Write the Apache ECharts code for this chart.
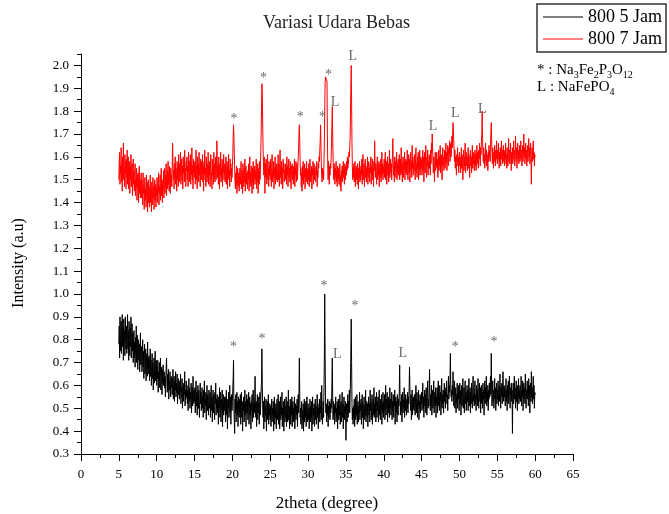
<!DOCTYPE html>
<html><head><meta charset="utf-8">
<script src="https://cdn.jsdelivr.net/npm/echarts@6/dist/echarts.min.js"></script>
<style>html,body{margin:0;padding:0;background:#fff}#c{width:669px;height:514px}</style>
</head><body><div id="c"></div>
<script>
// scan: 2theta from 5.00 to 60.00 in steps of 0.05 degree (20 readings per degree)
const thetaStart = 5.0;
const thetaStep = 0.05;

const seriesNames = ['800 5 Jam', '800 7 Jam'];

// 800 5 Jam (black)
const jam5 = [
0.78,0.86,0.72,0.90,0.80,0.75,0.88,0.74,0.83,0.91,0.77,0.85,0.71,0.89,0.79,0.84,0.73,0.90,0.80,0.76,
0.86,0.74,0.82,0.91,0.76,0.84,0.71,0.88,0.79,0.73,0.85,0.77,0.90,0.72,0.81,0.87,0.75,0.83,0.70,0.80,
0.84,0.72,0.79,0.68,0.81,0.74,0.86,0.70,0.77,0.82,0.67,0.76,0.80,0.71,0.78,0.66,0.75,0.83,0.69,0.74,
0.77,0.66,0.73,0.80,0.68,0.75,0.63,0.72,0.78,0.65,0.70,0.76,0.62,0.71,0.74,0.64,0.79,0.67,0.72,0.65,
0.73,0.62,0.69,0.76,0.64,0.71,0.60,0.68,0.74,0.63,0.70,0.58,0.67,0.72,0.61,0.69,0.75,0.62,0.66,0.71,
0.60,0.68,0.63,0.71,0.57,0.66,0.62,0.70,0.59,0.65,0.72,0.58,0.64,0.68,0.56,0.67,0.61,0.69,0.60,0.64,
0.66,0.59,0.64,0.55,0.62,0.68,0.72,0.63,0.57,0.65,0.60,0.67,0.54,0.62,0.58,0.66,0.61,0.55,0.64,0.59,
0.63,0.56,0.61,0.67,0.54,0.60,0.64,0.53,0.62,0.58,0.66,0.55,0.61,0.57,0.65,0.52,0.60,0.63,0.56,0.59,
0.54,0.62,0.57,0.65,0.52,0.59,0.55,0.63,0.50,0.58,0.61,0.53,0.60,0.56,0.66,0.51,0.58,0.54,0.62,0.55,
0.60,0.52,0.58,0.49,0.56,0.63,0.53,0.59,0.50,0.57,0.54,0.61,0.48,0.56,0.59,0.51,0.64,0.55,0.52,0.58,
0.53,0.59,0.48,0.56,0.62,0.51,0.57,0.47,0.55,0.60,0.50,0.58,0.53,0.46,0.56,0.61,0.52,0.57,0.49,0.55,
0.59,0.50,0.55,0.46,0.58,0.53,0.62,0.48,0.54,0.51,0.57,0.45,0.55,0.60,0.49,0.56,0.52,0.47,0.58,0.53,
0.50,0.57,0.46,0.54,0.60,0.49,0.55,0.44,0.53,0.58,0.48,0.56,0.51,0.45,0.57,0.52,0.61,0.47,0.54,0.50,
0.56,0.48,0.53,0.43,0.55,0.50,0.59,0.46,0.52,0.57,0.44,0.54,0.49,0.58,0.42,0.53,0.56,0.47,0.51,0.55,
0.49,0.55,0.44,0.52,0.58,0.47,0.53,0.41,0.54,0.50,0.57,0.46,0.52,0.60,0.48,0.55,0.43,0.51,0.56,0.49,
0.53,0.58,0.63,0.71,0.50,0.45,0.39,0.54,0.48,0.56,0.44,0.52,0.57,0.47,0.53,0.42,0.55,0.50,0.46,0.54,
0.48,0.56,0.43,0.51,0.57,0.46,0.53,0.40,0.52,0.49,0.55,0.44,0.50,0.58,0.47,0.53,0.42,0.51,0.56,0.48,
0.54,0.45,0.51,0.57,0.43,0.50,0.55,0.47,0.52,0.41,0.53,0.49,0.56,0.44,0.51,0.58,0.46,0.52,0.48,0.55,
0.64,0.50,0.46,0.53,0.42,0.51,0.56,0.45,0.52,0.48,0.55,0.43,0.50,0.57,0.47,0.53,0.58,0.62,0.76,0.60,
0.52,0.46,0.53,0.41,0.50,0.55,0.44,0.51,0.47,0.54,0.40,0.49,0.53,0.45,0.51,0.56,0.43,0.50,0.47,0.52,
0.45,0.51,0.42,0.49,0.54,0.44,0.50,0.47,0.53,0.40,0.48,0.55,0.43,0.50,0.46,0.52,0.41,0.49,0.54,0.45,
0.50,0.56,0.43,0.49,0.53,0.41,0.48,0.55,0.45,0.51,0.47,0.57,0.42,0.50,0.46,0.53,0.40,0.49,0.54,0.44,
0.51,0.46,0.55,0.42,0.49,0.53,0.44,0.50,0.58,0.45,0.51,0.41,0.48,0.54,0.43,0.50,0.47,0.55,0.42,0.49,
0.53,0.44,0.50,0.46,0.55,0.41,0.49,0.52,0.45,0.51,0.47,0.54,0.42,0.50,0.56,0.48,0.58,0.72,0.55,0.46,
0.50,0.43,0.48,0.53,0.41,0.49,0.45,0.52,0.40,0.47,0.54,0.44,0.50,0.46,0.53,0.42,0.49,0.55,0.44,0.48,
0.52,0.45,0.50,0.41,0.48,0.54,0.44,0.51,0.46,0.53,0.40,0.49,0.55,0.43,0.50,0.47,0.52,0.42,0.49,0.54,
0.45,0.51,0.43,0.49,0.56,0.46,0.52,0.41,0.50,0.47,0.54,0.44,0.51,0.48,0.57,0.45,0.60,0.50,0.43,0.49,
0.53,0.46,0.58,0.72,1.00,0.74,0.55,0.48,0.52,0.44,0.50,0.47,0.54,0.42,0.51,0.46,0.53,0.49,0.45,0.52,
0.48,0.54,0.50,0.61,0.72,0.55,0.45,0.53,0.47,0.51,0.43,0.52,0.48,0.55,0.44,0.50,0.46,0.53,0.41,0.49,
0.54,0.45,0.51,0.47,0.56,0.43,0.50,0.53,0.44,0.49,0.57,0.46,0.52,0.41,0.50,0.55,0.45,0.51,0.48,0.53,
0.36,0.47,0.52,0.44,0.50,0.56,0.46,0.53,0.49,0.58,0.48,0.54,0.62,0.75,0.89,0.70,0.52,0.45,0.50,0.43,
0.51,0.46,0.54,0.42,0.49,0.55,0.45,0.52,0.47,0.56,0.43,0.50,0.53,0.44,0.51,0.48,0.57,0.45,0.52,0.49,
0.54,0.43,0.50,0.56,0.46,0.52,0.41,0.49,0.55,0.45,0.51,0.47,0.58,0.44,0.50,0.53,0.46,0.52,0.42,0.50,
0.55,0.47,0.52,0.44,0.58,0.49,0.53,0.45,0.51,0.56,0.43,0.50,0.54,0.47,0.59,0.46,0.52,0.48,0.55,0.44,
0.51,0.57,0.46,0.53,0.49,0.55,0.44,0.52,0.58,0.47,0.51,0.45,0.54,0.50,0.56,0.43,0.52,0.48,0.57,0.46,
0.53,0.49,0.56,0.45,0.51,0.60,0.47,0.54,0.50,0.57,0.44,0.52,0.55,0.48,0.53,0.46,0.59,0.50,0.54,0.47,
0.52,0.57,0.45,0.53,0.49,0.56,0.46,0.54,0.51,0.58,0.43,0.52,0.55,0.48,0.53,0.44,0.56,0.50,0.47,0.54,
0.51,0.58,0.69,0.55,0.47,0.53,0.49,0.56,0.44,0.52,0.57,0.48,0.54,0.50,0.59,0.46,0.53,0.49,0.56,0.51,
0.47,0.54,0.50,0.57,0.48,0.55,0.52,0.59,0.68,0.60,0.53,0.49,0.56,0.45,0.52,0.58,0.47,0.54,0.50,0.55,
0.49,0.56,0.52,0.47,0.55,0.60,0.48,0.53,0.57,0.46,0.54,0.51,0.58,0.45,0.53,0.50,0.56,0.48,0.55,0.52,
0.57,0.49,0.54,0.61,0.50,0.55,0.46,0.53,0.58,0.51,0.56,0.48,0.59,0.52,0.47,0.55,0.62,0.50,0.54,0.51,
0.58,0.67,0.53,0.49,0.56,0.51,0.60,0.47,0.54,0.58,0.50,0.55,0.62,0.48,0.53,0.57,0.51,0.59,0.46,0.55,
0.52,0.59,0.48,0.56,0.62,0.51,0.55,0.49,0.60,0.53,0.57,0.47,0.54,0.63,0.50,0.56,0.52,0.58,0.48,0.55,
0.61,0.53,0.57,0.50,0.59,0.55,0.62,0.52,0.56,0.49,0.58,0.64,0.54,0.60,0.57,0.62,0.74,0.60,0.55,0.58,
0.53,0.60,0.56,0.66,0.58,0.51,0.57,0.62,0.50,0.55,0.59,0.48,0.56,0.53,0.61,0.50,0.57,0.54,0.60,0.49,
0.56,0.61,0.52,0.58,0.47,0.55,0.60,0.51,0.57,0.63,0.50,0.54,0.59,0.48,0.56,0.62,0.52,0.57,0.49,0.55,
0.60,0.53,0.58,0.49,0.56,0.63,0.51,0.55,0.59,0.48,0.57,0.52,0.61,0.54,0.50,0.58,0.64,0.53,0.56,0.51,
0.58,0.62,0.52,0.56,0.49,0.60,0.54,0.58,0.51,0.63,0.55,0.50,0.57,0.61,0.53,0.59,0.48,0.56,0.60,0.52,
0.57,0.50,0.61,0.54,0.58,0.47,0.56,0.62,0.52,0.59,0.55,0.64,0.51,0.57,0.53,0.60,0.49,0.58,0.54,0.61,
0.55,0.59,0.64,0.56,0.74,0.60,0.51,0.57,0.62,0.53,0.58,0.50,0.56,0.63,0.54,0.59,0.49,0.57,0.61,0.52,
0.58,0.54,0.62,0.51,0.57,0.60,0.53,0.65,0.56,0.50,0.59,0.55,0.61,0.52,0.58,0.66,0.57,0.53,0.60,0.55,
0.59,0.51,0.56,0.63,0.53,0.58,0.49,0.60,0.55,0.62,0.52,0.57,0.64,0.54,0.50,0.59,0.56,0.61,0.53,0.58,
0.39,0.55,0.61,0.52,0.58,0.64,0.54,0.59,0.50,0.56,0.62,0.53,0.57,0.49,0.60,0.55,0.63,0.52,0.58,0.54,
0.60,0.53,0.57,0.64,0.51,0.58,0.55,0.62,0.49,0.56,0.61,0.54,0.59,0.52,0.65,0.57,0.50,0.58,0.55,0.62,
0.54,0.59,0.51,0.63,0.56,0.60,0.48,0.57,0.61,0.53,0.66,0.55,0.59,0.52,0.58,0.64,0.54,0.60,0.50,0.57,
0.56
];

// 800 7 Jam (red)
const jam7 = [
1.50,1.58,1.62,1.48,1.56,1.53,1.64,1.49,1.57,1.45,1.60,1.52,1.66,1.50,1.55,1.47,1.61,1.53,1.58,1.46,
1.59,1.51,1.63,1.48,1.55,1.60,1.46,1.54,1.58,1.44,1.56,1.50,1.61,1.47,1.53,1.57,1.43,1.52,1.59,1.48,
1.54,1.45,1.51,1.57,1.43,1.50,1.47,1.55,1.41,1.52,1.46,1.53,1.40,1.49,1.56,1.44,1.50,1.42,1.48,1.53,
1.42,1.50,1.45,1.39,1.53,1.44,1.48,1.37,1.47,1.51,1.41,1.46,1.38,1.52,1.43,1.49,1.36,1.45,1.50,1.40,
1.47,1.38,1.44,1.52,1.40,1.46,1.36,1.49,1.43,1.39,1.51,1.42,1.47,1.37,1.45,1.50,1.41,1.48,1.38,1.46,
1.43,1.51,1.40,1.48,1.45,1.53,1.39,1.47,1.44,1.52,1.41,1.49,1.55,1.43,1.48,1.40,1.50,1.46,1.54,1.42,
1.49,1.55,1.44,1.52,1.47,1.57,1.43,1.51,1.54,1.46,1.58,1.48,1.53,1.45,1.56,1.50,1.44,1.55,1.49,1.52,
1.47,1.56,1.66,1.58,1.50,1.54,1.46,1.57,1.51,1.60,1.48,1.55,1.52,1.45,1.58,1.50,1.56,1.47,1.61,1.53,
1.49,1.57,1.52,1.62,1.48,1.55,1.59,1.50,1.56,1.46,1.60,1.53,1.57,1.49,1.63,1.51,1.55,1.47,1.58,1.54,
1.60,1.50,1.56,1.47,1.62,1.53,1.58,1.49,1.55,1.61,1.48,1.57,1.52,1.64,1.50,1.56,1.46,1.59,1.53,1.57,
1.51,1.58,1.48,1.55,1.63,1.50,1.56,1.46,1.60,1.53,1.57,1.49,1.62,1.52,1.55,1.47,1.59,1.54,1.50,1.58,
1.53,1.61,1.49,1.56,1.45,1.58,1.52,1.63,1.50,1.55,1.47,1.60,1.54,1.49,1.57,1.51,1.62,1.48,1.56,1.52,
1.58,1.47,1.55,1.61,1.50,1.53,1.46,1.59,1.52,1.56,1.48,1.62,1.51,1.57,1.49,1.54,1.60,1.50,1.55,1.67,
1.58,1.51,1.56,1.48,1.60,1.53,1.46,1.57,1.52,1.62,1.49,1.55,1.51,1.59,1.47,1.56,1.53,1.61,1.50,1.54,
1.57,1.49,1.55,1.60,1.48,1.53,1.58,1.46,1.56,1.51,1.61,1.50,1.54,1.47,1.59,1.52,1.57,1.49,1.55,1.51,
1.56,1.60,1.68,1.74,1.70,1.62,1.55,1.49,1.46,1.53,1.48,1.56,1.44,1.51,1.55,1.47,1.53,1.50,1.45,1.52,
1.55,1.48,1.52,1.58,1.46,1.51,1.54,1.44,1.57,1.50,1.47,1.55,1.49,1.59,1.45,1.52,1.56,1.48,1.53,1.50,
1.46,1.54,1.50,1.57,1.45,1.52,1.60,1.48,1.53,1.47,1.56,1.51,1.44,1.55,1.49,1.58,1.46,1.53,1.50,1.56,
1.48,1.54,1.51,1.59,1.46,1.53,1.49,1.57,1.44,1.52,1.55,1.48,1.58,1.50,1.54,1.62,1.70,1.80,1.92,1.88,
1.76,1.64,1.58,1.52,1.60,1.55,1.44,1.57,1.51,1.59,1.53,1.48,1.56,1.61,1.50,1.55,1.47,1.58,1.52,1.56,
1.50,1.59,1.53,1.47,1.56,1.61,1.49,1.54,1.51,1.58,1.46,1.55,1.52,1.60,1.48,1.56,1.50,1.57,1.53,1.49,
1.55,1.61,1.50,1.57,1.47,1.54,1.63,1.51,1.56,1.48,1.58,1.52,1.55,1.46,1.59,1.53,1.57,1.49,1.54,1.51,
1.57,1.50,1.55,1.48,1.60,1.52,1.56,1.47,1.54,1.59,1.51,1.55,1.49,1.58,1.53,1.46,1.56,1.52,1.57,1.50,
1.54,1.48,1.56,1.51,1.59,1.47,1.55,1.52,1.58,1.49,1.54,1.57,1.50,1.56,1.60,1.64,1.70,1.74,1.66,1.58,
1.52,1.55,1.47,1.53,1.45,1.56,1.50,1.58,1.48,1.54,1.51,1.57,1.46,1.53,1.55,1.49,1.58,1.51,1.54,1.48,
1.55,1.50,1.57,1.47,1.53,1.59,1.49,1.54,1.51,1.56,1.46,1.55,1.52,1.58,1.48,1.53,1.57,1.50,1.55,1.51,
1.49,1.56,1.52,1.58,1.47,1.54,1.51,1.57,1.55,1.60,1.58,1.63,1.67,1.74,1.66,1.57,1.52,1.49,1.55,1.51,
1.54,1.50,1.58,1.66,1.80,1.92,1.95,1.95,1.94,1.94,1.93,1.70,1.56,1.50,1.58,1.53,1.48,1.56,1.52,1.57,
1.55,1.60,1.66,1.74,1.82,1.70,1.60,1.54,1.50,1.57,1.52,1.48,1.55,1.51,1.58,1.49,1.54,1.47,1.56,1.52,
1.50,1.55,1.48,1.53,1.57,1.47,1.52,1.45,1.54,1.50,1.56,1.49,1.53,1.58,1.51,1.55,1.48,1.57,1.53,1.50,
1.56,1.52,1.58,1.54,1.60,1.55,1.59,1.57,1.62,1.60,1.64,1.68,1.78,1.90,2.00,1.84,1.66,1.56,1.50,1.55,
1.51,1.57,1.49,1.54,1.58,1.47,1.53,1.56,1.50,1.55,1.48,1.57,1.52,1.46,1.55,1.51,1.58,1.49,1.54,1.50,
1.56,1.52,1.59,1.48,1.55,1.61,1.50,1.54,1.57,1.47,1.53,1.59,1.51,1.56,1.49,1.55,1.52,1.60,1.48,1.54,
1.58,1.51,1.55,1.49,1.57,1.53,1.60,1.48,1.56,1.52,1.59,1.50,1.55,1.47,1.58,1.54,1.67,1.56,1.51,1.57,
1.53,1.48,1.56,1.60,1.50,1.55,1.52,1.58,1.47,1.54,1.57,1.51,1.59,1.49,1.55,1.62,1.52,1.57,1.50,1.56,
1.53,1.59,1.51,1.56,1.62,1.50,1.55,1.58,1.48,1.54,1.60,1.52,1.57,1.49,1.56,1.63,1.51,1.55,1.59,1.53,
1.57,1.50,1.55,1.61,1.68,1.58,1.52,1.56,1.49,1.60,1.54,1.58,1.51,1.55,1.62,1.50,1.57,1.53,1.59,1.52,
1.56,1.61,1.50,1.55,1.59,1.52,1.64,1.53,1.57,1.49,1.56,1.60,1.51,1.58,1.54,1.62,1.50,1.55,1.59,1.53,
1.58,1.52,1.63,1.55,1.50,1.57,1.61,1.53,1.59,1.49,1.56,1.62,1.54,1.58,1.51,1.65,1.55,1.60,1.52,1.57,
1.54,1.61,1.56,1.50,1.59,1.64,1.53,1.57,1.51,1.60,1.55,1.62,1.50,1.58,1.54,1.63,1.52,1.57,1.60,1.55,
1.59,1.52,1.57,1.63,1.54,1.60,1.49,1.56,1.62,1.53,1.58,1.65,1.55,1.51,1.60,1.56,1.63,1.52,1.58,1.55,
1.61,1.55,1.59,1.52,1.63,1.57,1.66,1.62,1.70,1.64,1.58,1.53,1.60,1.55,1.49,1.58,1.62,1.54,1.59,1.56,
1.62,1.55,1.59,1.51,1.57,1.63,1.54,1.60,1.56,1.65,1.53,1.58,1.61,1.55,1.50,1.59,1.64,1.56,1.60,1.54,
1.58,1.63,1.55,1.60,1.66,1.57,1.62,1.54,1.59,1.65,1.60,1.56,1.64,1.61,1.67,1.58,1.63,1.66,1.60,1.65,
1.69,1.64,1.70,1.75,1.72,1.66,1.62,1.58,1.63,1.55,1.60,1.57,1.52,1.61,1.58,1.64,1.56,1.60,1.53,1.59,
1.62,1.56,1.60,1.53,1.58,1.64,1.55,1.61,1.57,1.50,1.59,1.63,1.54,1.60,1.56,1.66,1.53,1.58,1.62,1.56,
1.60,1.54,1.58,1.64,1.55,1.61,1.57,1.51,1.59,1.63,1.56,1.60,1.53,1.58,1.65,1.55,1.61,1.57,1.62,1.54,
1.59,1.63,1.56,1.61,1.54,1.60,1.65,1.57,1.62,1.58,1.55,1.63,1.59,1.66,1.60,1.56,1.64,1.61,1.67,1.70,
1.80,1.68,1.62,1.58,1.64,1.57,1.61,1.55,1.60,1.66,1.58,1.63,1.56,1.61,1.59,1.54,1.62,1.58,1.65,1.60,
1.63,1.58,1.66,1.70,1.75,1.68,1.62,1.57,1.64,1.59,1.55,1.62,1.58,1.65,1.60,1.56,1.63,1.59,1.67,1.61,
1.57,1.63,1.59,1.66,1.60,1.55,1.62,1.58,1.64,1.56,1.61,1.67,1.59,1.63,1.57,1.60,1.65,1.58,1.62,1.56,
1.63,1.59,1.66,1.57,1.61,1.55,1.64,1.60,1.56,1.62,1.68,1.58,1.63,1.57,1.60,1.66,1.59,1.54,1.62,1.58,
1.64,1.57,1.61,1.67,1.59,1.63,1.56,1.60,1.69,1.62,1.58,1.64,1.55,1.61,1.66,1.59,1.63,1.57,1.60,1.65,
1.58,1.62,1.67,1.59,1.63,1.56,1.61,1.65,1.58,1.62,1.70,1.60,1.64,1.57,1.61,1.66,1.59,1.63,1.56,1.61,
1.65,1.58,1.62,1.68,1.60,1.64,1.57,1.61,1.66,1.59,1.48,1.60,1.64,1.58,1.63,1.67,1.59,1.62,1.56,1.61,
1.60
];

// peak annotation marks: [2theta, intensity, text]
const marks7 = [
  [20.2, 1.765, '*'], [24.1, 1.945, '*'], [28.95, 1.775, '*'], [31.9, 1.775, '*'],
  [32.7, 1.955, '*'], [33.55, 1.84, 'L'], [35.9, 2.04, 'L'], [46.5, 1.735, 'L'],
  [49.45, 1.79, 'L'], [53.0, 1.81, 'L']
];
const marks5 = [
  [20.15, 0.765, '*'], [23.9, 0.80, '*'], [32.1, 1.035, '*'], [33.85, 0.735, 'L'],
  [36.2, 0.945, '*'], [42.5, 0.74, 'L'], [49.45, 0.765, '*'], [54.55, 0.79, '*']
];

const xTicks = [0, 5, 10, 15, 20, 25, 30, 35, 40, 45, 50, 55, 60, 65];
const yMajor = [0.3,0.4,0.5,0.6,0.7,0.8,0.9,1.0,1.1,1.2,1.3,1.4,1.5,1.6,1.7,1.8,1.9,2.0];
const yMinor = [0.35,0.45,0.55,0.65,0.75,0.85,0.95,1.05,1.15,1.25,1.35,1.45,1.55,1.65,1.75,1.85,1.95,2.05];

function pairs(vals) {
  return vals.map((v, i) => [+(thetaStart + i * thetaStep).toFixed(2), v]);
}

const FONT = '"Liberation Serif", "Times New Roman", serif';

const chart = echarts.init(document.getElementById('c'), null, {renderer: 'canvas'});

const markSeries = (arr) => ({
  type: 'scatter',
  data: arr.map(m => ({value: [m[0], m[1]], name: m[2]})),
  symbolSize: 1,
  itemStyle: {color: 'rgba(0,0,0,0)'},
  silent: true,
  z: 5,
  label: {
    show: true, position: 'inside',
    formatter: p => p.name,
    fontFamily: FONT, fontSize: 14, color: '#444'
  }
});

chart.setOption({
  animation: false,
  backgroundColor: '#fff',
  title: {
    text: 'Variasi Udara Bebas',
    left: 263, top: 14, padding: 0,
    textStyle: {fontFamily: FONT, fontSize: 18, fontWeight: 'normal', color: '#222'}
  },
  legend: {
    data: seriesNames,
    orient: 'vertical',
    left: 537, top: 4,
    padding: [4, 4, 4, 6],
    itemGap: 4,
    itemWidth: 40, itemHeight: 1,
    icon: 'rect',
    borderColor: '#333', borderWidth: 1.5,
    textStyle: {fontFamily: FONT, fontSize: 18, color: '#000'}
  },
  grid: {left: 81, right: 96, top: 54, bottom: 60, containLabel: false, outerBoundsMode: 'none'},
  xAxis: {
    type: 'value', min: 0, max: 65, interval: 5,
    name: '2theta (degree)', nameLocation: 'middle', nameGap: 41,
    nameTextStyle: {fontFamily: FONT, fontSize: 17, color: '#000'},
    axisLine: {show: true, onZero: false, lineStyle: {color: '#000', width: 1}},
    axisTick: {show: true, length: 7, lineStyle: {color: '#000'}},
    minorTick: {show: true, splitNumber: 2, length: 4, lineStyle: {color: '#000'}},
    axisLabel: {fontFamily: FONT, fontSize: 13, color: '#000', margin: 14,
      customValues: xTicks},
    splitLine: {show: false}, minorSplitLine: {show: false}
  },
  yAxis: [{
    type: 'value', min: 0.3, max: 2.05, position: 'left', offset: 0,
    name: 'Intensity (a.u)', nameLocation: 'middle', nameGap: 54,
    nameTextStyle: {fontFamily: FONT, fontSize: 16, color: '#000', padding: [0, 18, 0, 0]},
    axisLine: {show: true, onZero: false, lineStyle: {color: '#000', width: 1}},
    axisTick: {show: true, length: 7, customValues: yMajor, lineStyle: {color: '#000'}},
    axisLabel: {fontFamily: FONT, fontSize: 13, color: '#000', margin: 12,
      customValues: yMajor, formatter: v => Number(v).toFixed(1)},
    splitLine: {show: false}
  }, {
    type: 'value', min: 0.3, max: 2.05, position: 'left', offset: 0,
    axisLine: {show: false},
    axisTick: {show: true, length: 4, customValues: yMinor, lineStyle: {color: '#000'}},
    axisLabel: {show: false},
    splitLine: {show: false}
  }],
  series: [{
    name: seriesNames[0], type: 'line', yAxisIndex: 0,
    data: pairs(jam5), showSymbol: false, symbol: 'none',
    lineStyle: {color: '#000', width: 1}, itemStyle: {color: '#000'}, z: 2
  }, {
    name: seriesNames[1], type: 'line', yAxisIndex: 0,
    data: pairs(jam7), showSymbol: false, symbol: 'none',
    lineStyle: {color: '#ff0000', width: 1}, itemStyle: {color: '#ff0000'}, z: 3
  }, markSeries(marks7), markSeries(marks5)],
  graphic: [{
    type: 'text', left: 537, top: 63,
    style: {
      text: '{n|* : Na}{s|3}{n|Fe}{s|2}{n|P}{s|3}{n|O}{s|12}',
      rich: {
        n: {fontFamily: FONT, fontSize: 15, color: '#222', lineHeight: 19, verticalAlign: 'middle'},
        s: {fontFamily: FONT, fontSize: 10, color: '#222', lineHeight: 10, verticalAlign: 'bottom'}
      }
    }
  }, {
    type: 'text', left: 537, top: 80,
    style: {
      text: '{n|L : NaFePO}{s|4}',
      rich: {
        n: {fontFamily: FONT, fontSize: 15, color: '#222', lineHeight: 19, verticalAlign: 'middle'},
        s: {fontFamily: FONT, fontSize: 10, color: '#222', lineHeight: 10, verticalAlign: 'bottom'}
      }
    }
  }]
});
</script>
</body></html>
